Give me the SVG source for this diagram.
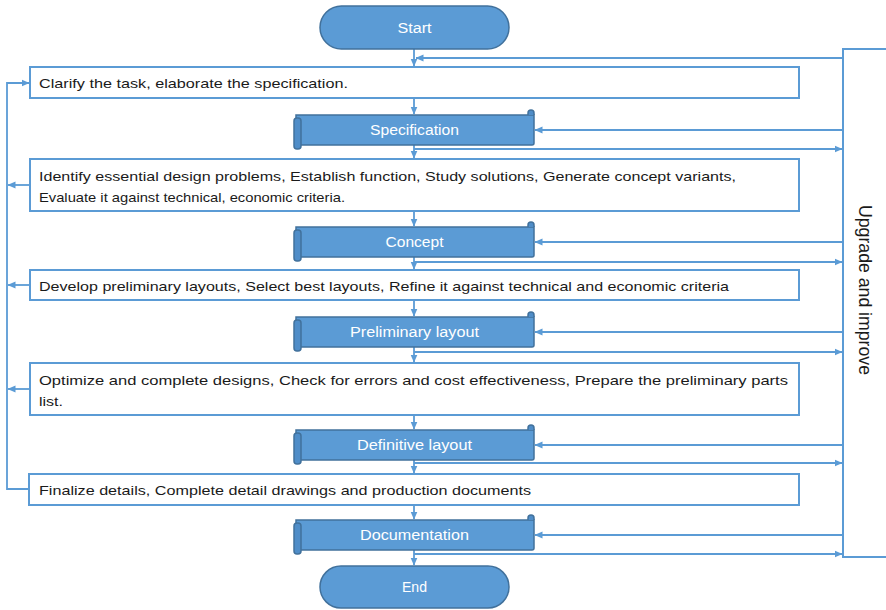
<svg xmlns="http://www.w3.org/2000/svg" width="886" height="610" viewBox="0 0 886 610">
<defs>
<marker id="ah" markerUnits="userSpaceOnUse" markerWidth="8" markerHeight="8" viewBox="0 0 8 8" refX="7.5" refY="4" orient="auto">
<path d="M0,0.5 L8,4 L0,7.5 Z" fill="#5B9BD5"/>
</marker>
<style>
.term{fill:#5B9BD5;stroke:#41719C;stroke-width:1.5}
.body{fill:#5B9BD5;stroke:#41719C;stroke-width:1.5}
.roll{fill:#4F8DC8;stroke:#41719C;stroke-width:1.5}
.box{fill:#ffffff;stroke:#5B9BD5;stroke-width:2}
.lbl{font-family:"Liberation Sans",Arial,sans-serif;font-size:14px;fill:#ffffff;text-anchor:middle}
.txt{font-family:"Liberation Sans",Arial,sans-serif;font-size:13.5px;fill:#1a1a1a}
.side{font-family:"Liberation Sans",Arial,sans-serif;font-size:18px;fill:#1a1a1a;text-anchor:middle}
.c{fill:none;stroke:#5B9BD5;stroke-width:1.8}
</style>
</defs>
<g id="connectors">
<path class="c" d="M414,49 V66" marker-end="url(#ah)"/>
<path class="c" d="M843,58 H416" marker-end="url(#ah)"/>
<path class="c" d="M414,98 V114" marker-end="url(#ah)"/>
<path class="c" d="M843,130 H535" marker-end="url(#ah)"/>
<path class="c" d="M414,145 V158" marker-end="url(#ah)"/>
<path class="c" d="M414,149 H842" marker-end="url(#ah)"/>
<path class="c" d="M414,211 V226" marker-end="url(#ah)"/>
<path class="c" d="M843,242 H535" marker-end="url(#ah)"/>
<path class="c" d="M414,257 V269" marker-end="url(#ah)"/>
<path class="c" d="M414,262 H842" marker-end="url(#ah)"/>
<path class="c" d="M414,300 V316" marker-end="url(#ah)"/>
<path class="c" d="M843,332 H535" marker-end="url(#ah)"/>
<path class="c" d="M414,347 V362" marker-end="url(#ah)"/>
<path class="c" d="M414,352 H842" marker-end="url(#ah)"/>
<path class="c" d="M414,415 V429" marker-end="url(#ah)"/>
<path class="c" d="M843,445 H535" marker-end="url(#ah)"/>
<path class="c" d="M414,460 V473" marker-end="url(#ah)"/>
<path class="c" d="M414,463 H842" marker-end="url(#ah)"/>
<path class="c" d="M414,505 V519" marker-end="url(#ah)"/>
<path class="c" d="M843,535 H535" marker-end="url(#ah)"/>
<path class="c" d="M414,550 V565" marker-end="url(#ah)"/>
<path class="c" d="M414,554 H842" marker-end="url(#ah)"/>
<path class="c" d="M30,185 H8" marker-end="url(#ah)"/>
<path class="c" d="M30,285 H8" marker-end="url(#ah)"/>
<path class="c" d="M30,389 H8" marker-end="url(#ah)"/>
<path class="c" d="M29,489 H7 V83 H29" marker-end="url(#ah)"/>
</g>
<g id="start">
<rect class="term" x="320" y="6" width="189" height="43" rx="21.5"/>
<text class="lbl" x="414.5" y="33" textLength="34" lengthAdjust="spacingAndGlyphs">Start</text>
</g>
<g id="clarify">
<rect class="box" x="30" y="67" width="769" height="31"/>
<text class="txt" x="39" y="88" textLength="309" lengthAdjust="spacingAndGlyphs">Clarify the task, elaborate the specification.</text>
</g>
<g id="specification">
<path class="body" d="M296,115 H534 V143 Q534,145 532,145 H296 Z"/>
<path class="roll" d="M528,115 V113 A3,3 0 0 1 534,113 V115"/>
<rect class="roll" x="294" y="118" width="7" height="31" rx="3"/>
<text class="lbl" x="414.5" y="135" textLength="89" lengthAdjust="spacingAndGlyphs">Specification</text>
</g>
<g id="identify">
<rect class="box" x="30" y="159" width="769" height="52"/>
<text class="txt" x="39" y="181" textLength="697" lengthAdjust="spacingAndGlyphs">Identify essential design problems, Establish function, Study solutions, Generate concept variants,</text>
<text class="txt" x="39" y="202" textLength="306" lengthAdjust="spacingAndGlyphs">Evaluate it against technical, economic criteria.</text>
</g>
<g id="concept">
<path class="body" d="M296,227 H534 V255 Q534,257 532,257 H296 Z"/>
<path class="roll" d="M528,227 V225 A3,3 0 0 1 534,225 V227"/>
<rect class="roll" x="294" y="230" width="7" height="31" rx="3"/>
<text class="lbl" x="414.5" y="247" textLength="58" lengthAdjust="spacingAndGlyphs">Concept</text>
</g>
<g id="develop">
<rect class="box" x="30" y="270" width="769" height="30"/>
<text class="txt" x="39" y="291" textLength="690" lengthAdjust="spacingAndGlyphs">Develop preliminary layouts, Select best layouts, Refine it against technical and economic criteria</text>
</g>
<g id="preliminary">
<path class="body" d="M296,317 H534 V345 Q534,347 532,347 H296 Z"/>
<path class="roll" d="M528,317 V315 A3,3 0 0 1 534,315 V317"/>
<rect class="roll" x="294" y="320" width="7" height="31" rx="3"/>
<text class="lbl" x="414.5" y="337" textLength="129" lengthAdjust="spacingAndGlyphs">Preliminary layout</text>
</g>
<g id="optimize">
<rect class="box" x="30" y="363" width="769" height="52"/>
<text class="txt" x="39" y="385" textLength="749" lengthAdjust="spacingAndGlyphs">Optimize and complete designs, Check for errors and cost effectiveness, Prepare the preliminary parts</text>
<text class="txt" x="39" y="406" textLength="24" lengthAdjust="spacingAndGlyphs">list.</text>
</g>
<g id="definitive">
<path class="body" d="M296,430 H534 V458 Q534,460 532,460 H296 Z"/>
<path class="roll" d="M528,430 V428 A3,3 0 0 1 534,428 V430"/>
<rect class="roll" x="294" y="433" width="7" height="31" rx="3"/>
<text class="lbl" x="414.5" y="450" textLength="115" lengthAdjust="spacingAndGlyphs">Definitive layout</text>
</g>
<g id="finalize">
<rect class="box" x="29" y="474" width="770" height="31"/>
<text class="txt" x="39" y="495" textLength="492" lengthAdjust="spacingAndGlyphs">Finalize details, Complete detail drawings and production documents</text>
</g>
<g id="documentation">
<path class="body" d="M296,520 H534 V548 Q534,550 532,550 H296 Z"/>
<path class="roll" d="M528,520 V518 A3,3 0 0 1 534,518 V520"/>
<rect class="roll" x="294" y="523" width="7" height="31" rx="3"/>
<text class="lbl" x="414.5" y="540" textLength="109" lengthAdjust="spacingAndGlyphs">Documentation</text>
</g>
<g id="end">
<rect class="term" x="320" y="566" width="189" height="42" rx="21"/>
<text class="lbl" x="414.5" y="592" textLength="25" lengthAdjust="spacingAndGlyphs">End</text>
</g>
<g id="upgrade">
<rect x="843" y="49" width="60" height="508" fill="#ffffff" stroke="#5B9BD5" stroke-width="2"/>
<text class="side" transform="translate(859,290) rotate(90)" textLength="170" lengthAdjust="spacingAndGlyphs">Upgrade and improve</text>
</g>
</svg>
